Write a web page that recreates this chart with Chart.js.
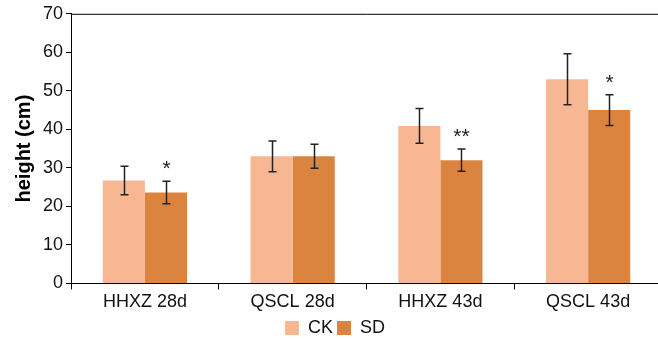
<!DOCTYPE html>
<html>
<head>
<meta charset="utf-8">
<script src="https://cdn.jsdelivr.net/npm/chart.js@4/dist/chart.umd.min.js"></script>
<style>
  html, body { margin: 0; padding: 0; background: #fff; overflow: hidden; }
  #wrap { width: 662px; height: 339px; position: relative; }
</style>
</head>
<body>
<div id="wrap"><canvas id="chart"></canvas></div>
<script>
// data
const categories = ['HHXZ 28d', 'QSCL 28d', 'HHXZ 43d', 'QSCL 43d'];
const ckValues = [26.7, 33.0, 40.9, 53.0];
const sdValues = [23.6, 33.0, 32.0, 45.0];
const ckErrors = [3.7, 4.0, 4.5, 6.6];
const sdErrors = [2.9, 3.1, 2.9, 4.0];
const sdMarks = ['*', '', '**', '*'];
const yTicks = [0, 10, 20, 30, 40, 50, 60, 70];

const FONT = '"Liberation Sans", Arial, Helvetica, sans-serif';
const errors = [ckErrors, sdErrors];
const marks = [null, sdMarks];

// error bars, significance stars and top frame line
const extras = {
  id: 'extras',
  afterDatasetsDraw(chart) {
    const ctx = chart.ctx;
    const y = chart.scales.y;
    const area = chart.chartArea;
    ctx.save();
    ctx.strokeStyle = '#000';
    ctx.lineWidth = 1;
    ctx.beginPath();
    ctx.moveTo(area.left, area.top + 0.5);
    ctx.lineTo(area.right, area.top + 0.5);
    ctx.stroke();

    chart.data.datasets.forEach((ds, di) => {
      const meta = chart.getDatasetMeta(di);
      meta.data.forEach((bar, i) => {
        const v = ds.data[i], e = errors[di][i];
        const top = y.getPixelForValue(v + e);
        const bot = y.getPixelForValue(v - e);
        const x = Math.round(bar.x) + 0.5;
        ctx.strokeStyle = '#222';
        ctx.lineWidth = 1.5;
        ctx.beginPath();
        ctx.moveTo(x, top); ctx.lineTo(x, bot);
        ctx.moveTo(x - 4, top); ctx.lineTo(x + 4, top);
        ctx.moveTo(x - 4, bot); ctx.lineTo(x + 4, bot);
        ctx.stroke();
        if (marks[di] && marks[di][i]) {
          ctx.fillStyle = '#222';
          ctx.font = '21px ' + FONT;
          ctx.textAlign = 'center';
          ctx.textBaseline = 'alphabetic';
          ctx.fillText(marks[di][i], x, top - 6);
        }
      });
    });
    ctx.restore();
  }
};

new Chart(document.getElementById('chart'), {
  type: 'bar',
  data: {
    labels: categories,
    datasets: [
      { label: 'CK', data: ckValues, backgroundColor: '#F7B792' },
      { label: 'SD', data: sdValues, backgroundColor: '#DB843F' }
    ]
  },
  options: {
    responsive: true,
    maintainAspectRatio: false,
    animation: false,
    datasets: { bar: { categoryPercentage: 0.57, barPercentage: 1.0 } },
    layout: { padding: { top: 13, left: 8, right: 0, bottom: -8 } },
    scales: {
      x: {
        grid: { display: true, offset: true, drawOnChartArea: false, tickLength: 6, color: '#000' },
        border: { color: '#000', width: 1 },
        ticks: { color: '#111', font: { family: FONT, size: 18 }, padding: 2 }
      },
      y: {
        min: 0, max: 70,
        afterBuildTicks: (axis) => { axis.ticks = yTicks.map(v => ({ value: v })); },
        grid: { display: true, drawOnChartArea: false, tickLength: 5, color: '#000' },
        border: { color: '#000', width: 1 },
        ticks: { color: '#111', font: { family: FONT, size: 18 }, padding: 3 },
        title: { display: true, text: 'height (cm)', color: '#000', font: { family: FONT, size: 20, weight: 'bold' }, padding: 4 }
      }
    },
    plugins: {
      legend: {
        position: 'bottom',
        labels: { color: '#111', font: { family: FONT, size: 18 }, boxWidth: 14, boxHeight: 14, padding: 4 }
      },
      tooltip: { enabled: false }
    }
  },
  plugins: [extras]
});
</script>
</body>
</html>
